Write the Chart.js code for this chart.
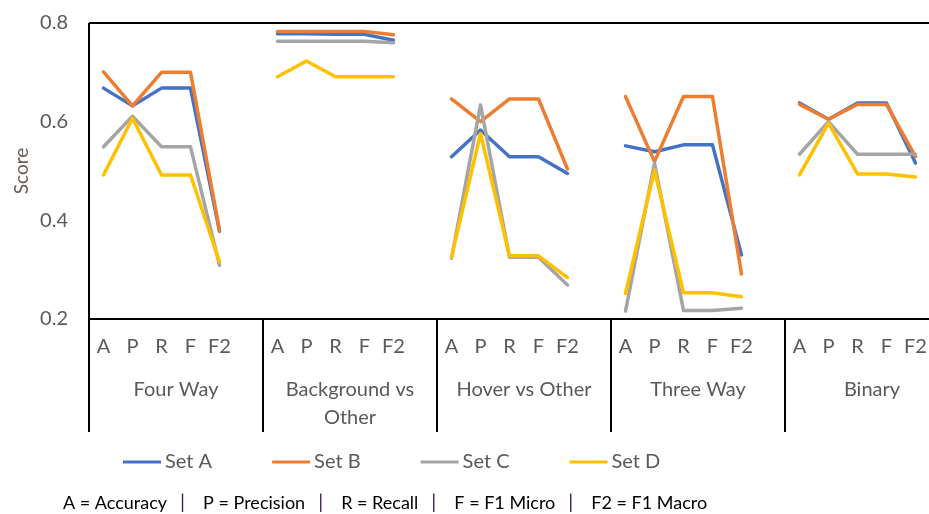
<!DOCTYPE html>
<html>
<head>
<meta charset="utf-8">
<script src="https://cdn.jsdelivr.net/npm/chart.js@4.4.1/dist/chart.umd.min.js"></script>
<style>
  html, body { margin: 0; padding: 0; background: #fff; overflow: hidden; }
  #wrap { position: relative; width: 959px; height: 514px; }
</style>
</head>
<body>
<div id="wrap"><canvas id="myChart"></canvas></div>
<script>
// metric labels, one blank slot after each group so the lines break
const metrics = ['A', 'P', 'R', 'F', 'F2', ''];
const groups = [['Four Way'], ['Background vs', 'Other'], ['Hover vs Other'], ['Three Way'], ['Binary']];
const yTicks = [0.2, 0.4, 0.6, 0.8];

const setA = [0.668, 0.632, 0.668, 0.668, 0.378, null,
              0.778, 0.778, 0.777, 0.777, 0.765, null,
              0.529, 0.583, 0.529, 0.529, 0.495, null,
              0.551, 0.539, 0.553, 0.553, 0.330, null,
              0.638, 0.605, 0.638, 0.638, 0.516, null];
const setB = [0.701, 0.632, 0.700, 0.700, 0.380, null,
              0.783, 0.783, 0.783, 0.783, 0.776, null,
              0.646, 0.600, 0.646, 0.646, 0.504, null,
              0.651, 0.519, 0.651, 0.651, 0.291, null,
              0.635, 0.605, 0.635, 0.635, 0.529, null];
const setC = [0.549, 0.611, 0.549, 0.549, 0.309, null,
              0.763, 0.763, 0.763, 0.763, 0.760, null,
              0.323, 0.634, 0.325, 0.325, 0.269, null,
              0.216, 0.516, 0.217, 0.217, 0.222, null,
              0.534, 0.600, 0.534, 0.534, 0.534, null];
const setD = [0.492, 0.607, 0.492, 0.492, 0.316, null,
              0.691, 0.723, 0.691, 0.691, 0.691, null,
              0.326, 0.576, 0.328, 0.328, 0.284, null,
              0.252, 0.502, 0.253, 0.253, 0.245, null,
              0.492, 0.597, 0.494, 0.494, 0.488, null];

const seriesNames = ['Set A', 'Set B', 'Set C', 'Set D'];
const seriesColors = ['#4472C4', '#ED7D31', '#A5A5A5', '#FFC000'];
const footnote = ['A = Accuracy', 'P = Precision', 'R = Recall', 'F = F1 Micro', 'F2 = F1 Macro'];

const labels = [];
groups.forEach(() => metrics.forEach(m => labels.push(m)));

const textColor = '#595959';
const fontFamily = 'Lato, "Open Sans", sans-serif';
Chart.defaults.font.family = fontFamily;

// draws the frame, the two-level category axis, legend and footnote
const excelAxis = {
  id: 'excelAxis',
  afterDraw(chart) {
    const ctx = chart.ctx;
    const area = chart.chartArea;
    const x = chart.scales.x;
    const groupW = (area.right - area.left) / groups.length;
    const axisBottom = 432;

    ctx.save();
    ctx.strokeStyle = '#000';
    ctx.lineWidth = 2;
    ctx.beginPath();
    ctx.moveTo(area.left, area.top);
    ctx.lineTo(chart.width, area.top);
    ctx.moveTo(area.left, area.bottom);
    ctx.lineTo(chart.width, area.bottom);
    ctx.moveTo(area.left, area.top);
    ctx.lineTo(area.left, axisBottom);
    for (let k = 1; k <= groups.length; k++) {
      const gx = area.left + k * groupW;
      ctx.moveTo(gx, area.bottom);
      ctx.lineTo(gx, axisBottom);
    }
    ctx.stroke();

    ctx.fillStyle = textColor;
    ctx.textAlign = 'center';
    ctx.textBaseline = 'middle';
    ctx.font = '20px ' + fontFamily;
    labels.forEach((lab, i) => {
      if (lab) ctx.fillText(lab, x.getPixelForValue(i), 347);
    });
    groups.forEach((lines, k) => {
      const cx = area.left + (k + 0.5) * groupW;
      lines.forEach((t, j) => ctx.fillText(t, cx, 390 + j * 28));
    });

    // legend
    ctx.textAlign = 'left';
    let lx = 123;
    chart.data.datasets.forEach(ds => {
      ctx.strokeStyle = ds.borderColor;
      ctx.lineWidth = 3;
      ctx.beginPath();
      ctx.moveTo(lx, 462);
      ctx.lineTo(lx + 38, 462);
      ctx.stroke();
      ctx.fillText(ds.label, lx + 42, 462);
      lx += 42 + ctx.measureText(ds.label).width + 60;
    });

    // footnote
    ctx.font = '18px ' + fontFamily;
    let fx = 63;
    footnote.forEach((t, i) => {
      ctx.fillStyle = '#000';
      ctx.fillText(t, fx, 503);
      fx += ctx.measureText(t).width;
      if (i < footnote.length - 1) {
        ctx.fillStyle = '#3a1d4d';
        ctx.font = '20px ' + fontFamily;
        ctx.fillText('|', fx + 13, 503);
        fx += 13 + ctx.measureText('|').width + 18;
        ctx.font = '18px ' + fontFamily;
      }
    });
    ctx.restore();
  }
};

const datasets = [setA, setB, setC, setD].map((data, i) => ({
  label: seriesNames[i],
  data: data,
  borderColor: seriesColors[i],
  backgroundColor: seriesColors[i],
  borderWidth: 3.5,
  pointRadius: 0,
  tension: 0,
  spanGaps: false,
  borderCapStyle: 'round',
  borderJoinStyle: 'round',
  order: 3 - i
}));

new Chart(document.getElementById('myChart'), {
  type: 'line',
  data: { labels: labels, datasets: datasets },
  plugins: [excelAxis],
  options: {
    responsive: true,
    maintainAspectRatio: false,
    animation: false,
    layout: { padding: { top: 23, left: 0, right: 0, bottom: 0 } },
    plugins: {
      legend: { display: false },
      tooltip: { enabled: false }
    },
    scales: {
      x: {
        type: 'category',
        offset: true,
        grid: { display: false, drawTicks: false },
        border: { display: false },
        ticks: { display: false },
        afterFit: scale => { scale.height = 195; }
      },
      y: {
        min: 0.2,
        max: 0.8,
        afterBuildTicks: scale => { scale.ticks = yTicks.map(v => ({ value: v })); },
        grid: { display: false, drawTicks: false },
        border: { display: false },
        ticks: {
          padding: 21,
          color: textColor,
          font: { size: 20 },
          callback: v => v.toFixed(1)
        },
        title: {
          display: true,
          text: 'Score',
          color: '#6b6058',
          font: { size: 19 },
          padding: { top: 10, bottom: 0 }
        },
        afterFit: scale => {
          scale.width = 89;
          scale.paddingTop = 0;
          scale.paddingBottom = 0;
        }
      }
    }
  }
});
</script>
</body>
</html>
